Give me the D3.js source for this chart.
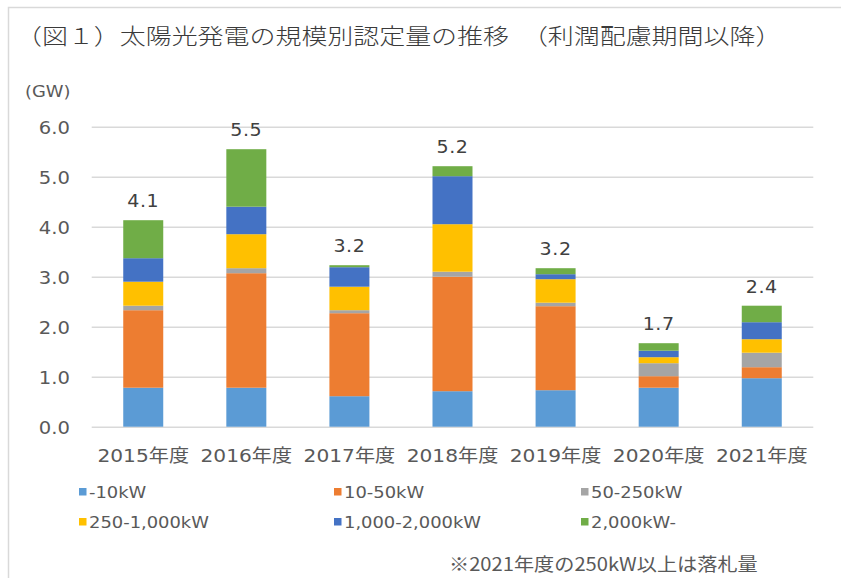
<!DOCTYPE html>
<html>
<head>
<meta charset="utf-8">
<script src="https://cdn.jsdelivr.net/npm/d3@7"></script>
<style>
  html, body { margin: 0; padding: 0; background: #fff; }
  svg { display: block; }
</style>
</head>
<body>
<div id="chart"></div>
<script>
// fiscal years and size classes
const years = ['2015年度', '2016年度', '2017年度', '2018年度', '2019年度', '2020年度', '2021年度'];
const classes = ['-10kW', '10-50kW', '50-250kW', '250-1,000kW', '1,000-2,000kW', '2,000kW-'];
const colors = ['#5B9BD5', '#ED7D31', '#A5A5A5', '#FFC000', '#4472C4', '#70AD47'];

// GW per class
const under10 = [0.78, 0.78, 0.61, 0.71, 0.73, 0.78, 0.97];
const from10to50 = [1.55, 2.29, 1.66, 2.29, 1.68, 0.23, 0.22];
const from50to250 = [0.09, 0.10, 0.06, 0.10, 0.07, 0.26, 0.29];
const from250to1000 = [0.48, 0.68, 0.47, 0.95, 0.47, 0.12, 0.27];
const from1000to2000 = [0.47, 0.55, 0.39, 0.96, 0.10, 0.13, 0.34];
const over2000 = [0.76, 1.15, 0.04, 0.20, 0.12, 0.15, 0.33];
const totalLabels = ['4.1', '5.5', '3.2', '5.2', '3.2', '1.7', '2.4'];
const yTicks = [0, 1, 2, 3, 4, 5, 6];

const series = [under10, from10to50, from50to250, from250to1000, from1000to2000, over2000];

const width = 841;
const height = 578;
const SX = 1.12; // the source text is a little wider than it is tall
const textColor = '#595959';
const latin = '"DejaVu Sans", "Noto Sans CJK JP", sans-serif';
const cjk = '"Noto Sans CJK JP", "DejaVu Sans", sans-serif';

const margin = { top: 126.7, left: 91.7, right: 27.7, bottom: 151.3 };
const innerW = width - margin.left - margin.right;
const innerH = height - margin.top - margin.bottom;

const rows = years.map((yr, i) => {
    const r = { year: yr };
    classes.forEach((c, k) => { r[c] = series[k][i]; });
    return r;
});
const stacked = d3.stack().keys(classes)(rows);

const svg = d3.select('#chart').append('svg')
    .attr('width', width)
    .attr('height', height);

// frame
svg.append('path')
    .attr('d', `M8.5,${height} V7.5 H${width}`)
    .attr('fill', 'none')
    .attr('stroke', '#d9d9d9')
    .attr('stroke-width', 1.5);

function putText(x, y, str, sx = SX) {
    return svg.append('text')
        .attr('transform', `translate(${x},${y}) scale(${sx},1)`)
        .text(str);
}

// title
putText(16, 44, '（図１）太陽光発電の規模別認定量の推移　（利潤配慮期間以降）', 1.18)
    .style('font-family', cjk)
    .style('font-size', '22px')
    .style('font-weight', '300')
    .style('fill', '#3a3a3a');

// unit
putText(25, 97, '(GW)')
    .style('font-family', latin)
    .style('font-size', '16px')
    .style('fill', textColor);

const g = svg.append('g').attr('transform', `translate(${margin.left},${margin.top})`);

const x = d3.scaleBand().domain(years).range([0, innerW]).paddingInner(0.612).paddingOuter(0.306);
const y = d3.scaleLinear().domain([0, 6]).range([innerH, 0]);

// y axis with gridlines
const yAxis = g.append('g')
    .call(d3.axisLeft(y).tickValues(yTicks).tickFormat(d3.format('.1f')).tickSize(-innerW).tickPadding(0));
yAxis.select('.domain').remove();
yAxis.selectAll('.tick line').attr('stroke', '#d9d9d9').attr('stroke-width', 1.4);
yAxis.selectAll('.tick text')
    .attr('x', -21.7 / SX)
    .attr('dy', '0.36em')
    .attr('transform', `scale(${SX},1)`)
    .style('font-family', latin)
    .style('font-size', '17.5px')
    .style('fill', textColor);

// bars
g.append('g').selectAll('g')
    .data(stacked)
    .enter()
    .append('g')
    .attr('fill', (d, i) => colors[i])
    .selectAll('rect')
    .data(d => d)
    .enter()
    .append('rect')
    .attr('x', d => x(d.data.year))
    .attr('y', d => y(d[1]))
    .attr('width', x.bandwidth())
    .attr('height', d => y(d[0]) - y(d[1]));

// totals above bars
const topLayer = stacked[stacked.length - 1];
g.append('g').selectAll('text')
    .data(years)
    .enter()
    .append('text')
    .attr('transform', (d, i) => `translate(${x(d) + x.bandwidth() / 2},${y(topLayer[i][1]) - 13}) scale(${SX},1)`)
    .attr('text-anchor', 'middle')
    .style('font-family', latin)
    .style('font-size', '17px')
    .style('letter-spacing', '0.5px')
    .style('fill', '#404040')
    .text((d, i) => totalLabels[i]);

// x axis labels
const xAxis = g.append('g')
    .attr('transform', `translate(0,${innerH})`)
    .call(d3.axisBottom(x).tickSize(0));
xAxis.select('.domain').remove();
xAxis.selectAll('.tick text')
    .attr('y', 35)
    .attr('dy', 0)
    .attr('transform', `scale(${SX},1)`)
    .style('font-family', latin)
    .style('font-size', '18px')
    .style('fill', textColor);

// legend, three per row
const legendX = [79, 334, 581];
const legendY = [492, 522];
const legend = svg.append('g').selectAll('g')
    .data(classes)
    .enter()
    .append('g')
    .attr('transform', (d, i) => `translate(${legendX[i % 3]},${legendY[Math.floor(i / 3)]})`);

legend.append('rect')
    .attr('x', 0)
    .attr('y', -4)
    .attr('width', 7.5)
    .attr('height', 7.5)
    .attr('fill', (d, i) => colors[i]);

legend.append('text')
    .attr('transform', `translate(10,6) scale(${SX},1)`)
    .style('font-family', latin)
    .style('font-size', '16px')
    .style('fill', textColor)
    .text(d => d);

// note
putText(449, 571, '※2021年度の250kW以上は落札量')
    .style('font-family', cjk)
    .style('font-size', '18px')
    .style('fill', textColor);
</script>
</body>
</html>
